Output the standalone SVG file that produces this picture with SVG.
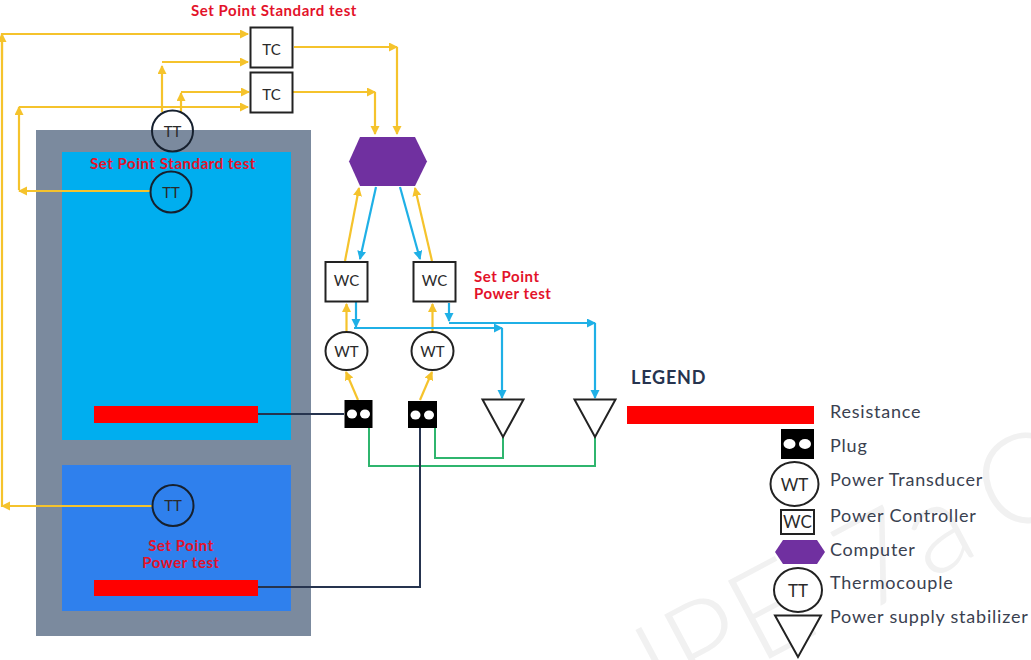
<svg xmlns="http://www.w3.org/2000/svg" width="1031" height="660" viewBox="0 0 1031 660">
<style>
text{font-family:"Lato","Open Sans",sans-serif}
.y{fill:none;stroke:#f5c32c;stroke-width:2.200}
.b{fill:none;stroke:#1fb0e6;stroke-width:2.200}
.g{fill:none;stroke:#2fb56e;stroke-width:2}
.d{fill:none;stroke:#26344f;stroke-width:2}
.n{fill:#fff;stroke:#222;stroke-width:2}
.o{fill:none;stroke:#16202e;stroke-width:2}
.t{font-size:15px;fill:#2a2a2a;text-anchor:middle}
.r{font-size:15px;fill:#e3122a;font-weight:700;text-anchor:middle;letter-spacing:.55px}
.l{font-size:18px;fill:#3a4150;letter-spacing:.78px}
.w{fill:#f1f1f1;font-size:125px;font-weight:300}
</style>
<defs>
<marker id="ay" markerWidth="11" markerHeight="10" refX="8" refY="4.500" orient="auto" markerUnits="userSpaceOnUse"><path d="M0 0L9 4.500L0 9Z" fill="#f5c32c"/></marker>
<marker id="ab" markerWidth="11" markerHeight="10" refX="8" refY="4.500" orient="auto" markerUnits="userSpaceOnUse"><path d="M0 0L9 4.500L0 9Z" fill="#1fb0e6"/></marker>
</defs>
<rect width="1031" height="660" fill="#fff"/>
<g id="watermark">
<text class="w" transform="translate(865 614) rotate(-28)" word-spacing="-10">7a C</text>
<text class="w" transform="translate(822 631) rotate(-28)" text-anchor="end">IPE</text>
</g>
<g id="vessel">
<rect x="36" y="130" width="275" height="506" fill="#7b8a9e"/>
<rect x="62" y="152" width="229" height="288" fill="#00aeef"/>
<rect x="62" y="465" width="229" height="146" fill="#2f80ed"/>
<rect x="94" y="406" width="164" height="17" fill="#ff0000"/>
<rect x="94" y="580" width="164" height="16" fill="#ff0000"/>
</g>
<g id="connectors">
<path class="y" d="M2 507V34H248" marker-end="url(#ay)"/>
<path class="y" d="M2 60V34" marker-end="url(#ay)"/>
<path class="y" d="M150 191H19" marker-end="url(#ay)"/>
<path class="y" d="M19 190V107" marker-end="url(#ay)"/>
<path class="y" d="M19 107H248" marker-end="url(#ay)"/>
<path class="y" d="M152 506H2" marker-end="url(#ay)"/>
<path class="y" d="M162 112V66" marker-end="url(#ay)"/>
<path class="y" d="M162 62H248" marker-end="url(#ay)"/>
<path class="y" d="M181 113V93" marker-end="url(#ay)"/>
<path class="y" d="M181 92H249" marker-end="url(#ay)"/>
<path class="y" d="M294 47H397" marker-end="url(#ay)"/>
<path class="y" d="M397 47V134" marker-end="url(#ay)"/>
<path class="y" d="M292 92H375" marker-end="url(#ay)"/>
<path class="y" d="M375 92V134" marker-end="url(#ay)"/>
<path class="y" d="M345 261L359 188" marker-end="url(#ay)"/>
<path class="y" d="M432 261L415 188" marker-end="url(#ay)"/>
<path class="b" d="M376 187L360 259" marker-end="url(#ab)"/>
<path class="b" d="M400 187L420 259" marker-end="url(#ab)"/>
<path class="y" d="M346.500 331V304" marker-end="url(#ay)"/>
<path class="y" d="M432.500 331V304" marker-end="url(#ay)"/>
<path class="y" d="M358 400L346 372" marker-end="url(#ay)"/>
<path class="y" d="M420 400L432 372" marker-end="url(#ay)"/>
<path class="b" d="M356 302V327" marker-end="url(#ab)"/>
<path class="b" d="M354 328H502" marker-end="url(#ab)"/>
<path class="b" d="M502 328V398" marker-end="url(#ab)"/>
<path class="b" d="M449 303V321" marker-end="url(#ab)"/>
<path class="b" d="M449 323H595" marker-end="url(#ab)"/>
<path class="b" d="M595 323V398" marker-end="url(#ab)"/>
<path class="g" d="M369 428V466H595V437"/>
<path class="g" d="M435 428V458H503V437"/>
<path class="d" d="M258 414H344"/>
<path class="d" d="M420 428V587H258"/>
</g>
<g id="tc1"><rect class="n" x="250.500" y="27.500" width="42" height="40"/><text class="t" x="271.500" y="55">TC</text></g>
<g id="tc2"><rect class="n" x="250.500" y="72.500" width="42" height="40"/><text class="t" x="271.500" y="100">TC</text></g>
<g id="tt1"><circle class="o" cx="172.500" cy="131" r="20.500"/><text class="t" x="172.500" y="137">TT</text></g>
<g id="tt2"><circle class="o" cx="171" cy="192" r="20.500"/><text class="t" x="171" y="198">TT</text></g>
<g id="tt3"><circle class="o" cx="173" cy="505.500" r="20.500"/><text class="t" x="173" y="511">TT</text></g>
<g id="computer"><path d="M360 137H415L427 161.500L415 186H360L349 161.500Z" fill="#7030a0"/></g>
<g id="wc1"><rect class="n" x="325.500" y="262" width="42" height="39.500"/><text class="t" x="346.500" y="286">WC</text></g>
<g id="wc2"><rect class="n" x="413.500" y="262" width="42" height="39.500"/><text class="t" x="434.500" y="286">WC</text></g>
<g id="wt1"><ellipse class="n" cx="346.500" cy="351" rx="21" ry="19"/><text class="t" x="346.500" y="357">WT</text></g>
<g id="wt2"><ellipse class="n" cx="432.500" cy="351" rx="21" ry="19"/><text class="t" x="432.500" y="357">WT</text></g>
<g id="plug1"><rect x="344.500" y="400" width="28" height="28" fill="#000"/><ellipse cx="352" cy="414" rx="5" ry="4.500" fill="#fff"/><ellipse cx="365" cy="414" rx="5" ry="4.500" fill="#fff"/></g>
<g id="plug2"><rect x="408" y="401" width="29" height="27" fill="#000"/><ellipse cx="415.500" cy="415" rx="5" ry="4.500" fill="#fff"/><ellipse cx="429" cy="415" rx="5" ry="4.500" fill="#fff"/></g>
<g id="stab1"><path class="n" d="M482.500 399.500H523.500L503 437Z"/></g>
<g id="stab2"><path class="n" d="M574.500 399.500H615.500L595 437Z"/></g>
<g id="labels">
<text class="r" x="274" y="16">Set Point Standard test</text>
<text class="r" x="173" y="169">Set Point Standard test</text>
<text class="r" x="474" y="282" style="text-anchor:start">Set Point</text>
<text class="r" x="474" y="299" style="text-anchor:start">Power test</text>
<text class="r" x="181" y="551">Set Point</text>
<text class="r" x="181" y="568">Power test</text>
</g>
<g id="legend">
<text x="631" y="384" font-size="18" font-weight="700" fill="#26344f" letter-spacing=".8">LEGEND</text>
<rect x="627" y="406" width="187" height="18" fill="#ff0000"/>
<text class="l" x="830" y="418">Resistance</text>
<rect x="781" y="429" width="33" height="30" fill="#000"/><ellipse cx="789.500" cy="444" rx="6" ry="5" fill="#fff"/><ellipse cx="805" cy="444" rx="6" ry="5" fill="#fff"/>
<text class="l" x="830" y="452">Plug</text>
<ellipse class="n" cx="794.500" cy="484" rx="24" ry="22"/><text class="t" x="794.500" y="491" style="font-size:17px">WT</text>
<text class="l" x="830" y="486">Power Transducer</text>
<rect class="n" x="781" y="510" width="33" height="24"/><text class="t" x="797.500" y="528" style="font-size:17px">WC</text>
<text class="l" x="830" y="522">Power Controller</text>
<path d="M783 540H817L825 552L817 564H783L775 552Z" fill="#7030a0"/>
<text class="l" x="830" y="556">Computer</text>
<ellipse class="n" cx="798" cy="590" rx="24" ry="22"/><text class="t" x="798" y="597" style="font-size:17px">TT</text>
<text class="l" x="830" y="589">Thermocouple</text>
<path class="n" d="M775 615.500H821L798 657Z"/>
<text class="l" x="830" y="623">Power supply stabilizer</text>
</g>
</svg>
